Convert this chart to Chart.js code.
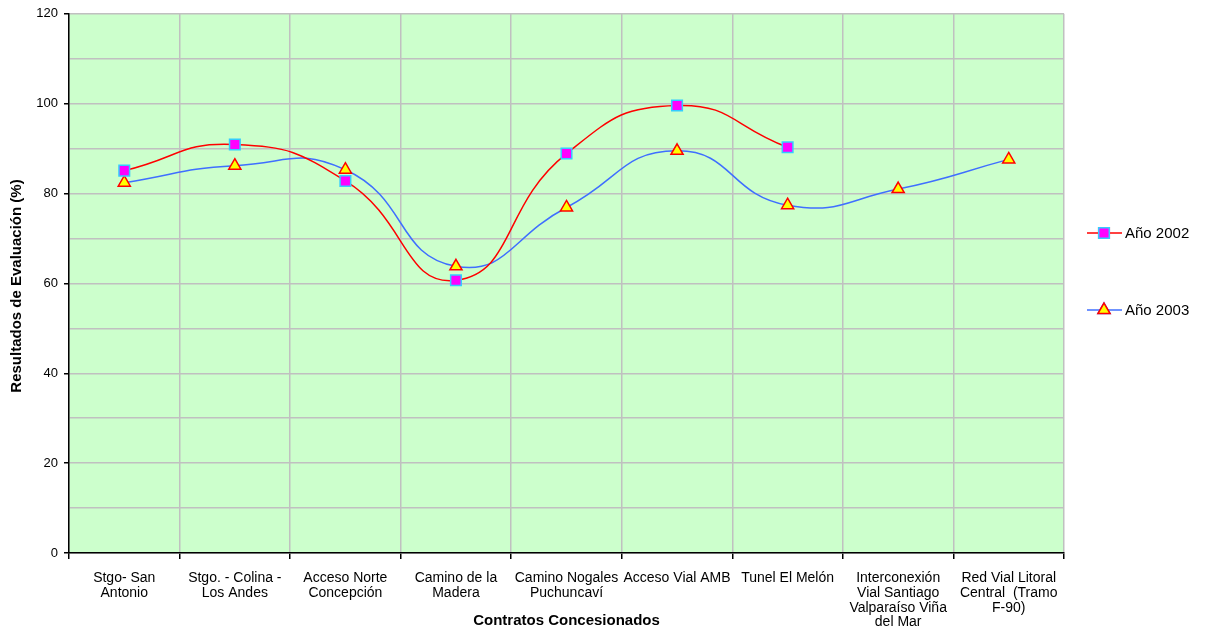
<!DOCTYPE html>
<html>
<head>
<meta charset="utf-8">
<script src="https://cdn.jsdelivr.net/npm/chart.js@4/dist/chart.umd.min.js"></script>
<style>
  html, body { margin: 0; padding: 0; background: #fff; }
  #wrap { width: 1207px; height: 633px; position: relative; }
</style>
</head>
<body>
<div id="wrap"><canvas id="chart"></canvas></div>
<script>
// Contract names (multi-line labels, as in the printed report)
const contratos = [
    ['Stgo- San', 'Antonio'],
    ['Stgo. - Colina -', 'Los Andes'],
    ['Acceso Norte', 'Concepción'],
    ['Camino de la', 'Madera'],
    ['Camino Nogales', 'Puchuncaví'],
    ['Acceso Vial AMB'],
    ['Tunel El Melón'],
    ['Interconexión', 'Vial Santiago', 'Valparaíso Viña', 'del Mar'],
    ['Red Vial Litoral', 'Central  (Tramo', 'F-90)']
];

// Evaluation results (%)
const anio2002 = [85.1, 90.9, 82.8, 60.7, 88.9, 99.6, 90.3, null, null];
const anio2003 = [82.4, 86.2, 85.3, 63.8, 76.9, 89.5, 77.4, 81.0, 87.6];

const yTicks = [0, 20, 40, 60, 80, 100, 120];

const FONT = 'Liberation Sans, Arial, sans-serif';

// green plot background + axis titles + legend on the right
const decor = {
    id: 'decor',
    beforeDraw(chart) {
        const { ctx, chartArea: a } = chart;
        ctx.save();
        ctx.fillStyle = '#CCFFCC';
        ctx.fillRect(a.left, a.top, a.right - a.left, a.bottom - a.top);
        ctx.restore();
    },
    afterDraw(chart) {
        const { ctx, chartArea: a } = chart;
        ctx.save();
        ctx.fillStyle = '#000';
        ctx.font = 'bold 15px ' + FONT;
        ctx.textAlign = 'center';
        ctx.textBaseline = 'middle';
        ctx.fillText('Contratos Concesionados', (a.left + a.right) / 2, 621);
        ctx.translate(17, 286);
        ctx.rotate(-Math.PI / 2);
        ctx.fillText('Resultados de Evaluación (%)', 0, 0);
        ctx.restore();

        const items = [
            { y: 233, ds: chart.data.datasets[0] },
            { y: 310, ds: chart.data.datasets[1] }
        ];
        items.forEach(it => {
            ctx.save();
            ctx.strokeStyle = it.ds.borderColor;
            ctx.lineWidth = 1.5;
            ctx.beginPath();
            ctx.moveTo(1087, it.y);
            ctx.lineTo(1122, it.y);
            ctx.stroke();
            Chart.helpers.drawPoint(ctx, {
                pointStyle: it.ds.pointStyle,
                radius: it.ds.pointRadius,
                borderWidth: it.ds.pointBorderWidth,
                rotation: 0
            }, 1104, it.y);
            ctx.fillStyle = it.ds.pointBackgroundColor;
            ctx.strokeStyle = it.ds.pointBorderColor;
            ctx.lineWidth = it.ds.pointBorderWidth;
            ctx.fill();
            ctx.stroke();
            ctx.fillStyle = '#000';
            ctx.font = '15px ' + FONT;
            ctx.textAlign = 'left';
            ctx.textBaseline = 'middle';
            ctx.fillText(it.ds.label, 1125, it.y + 1);
            ctx.restore();
        });
    }
};

new Chart(document.getElementById('chart').getContext('2d'), {
    type: 'line',
    data: {
        labels: contratos,
        datasets: [
            {
                label: 'Año 2002',
                data: anio2002,
                borderColor: '#FF0000',
                borderWidth: 1.5,
                tension: 0.5,
                pointStyle: 'rect',
                pointRadius: 7.5,
                pointBackgroundColor: '#FF00FF',
                pointBorderColor: '#33CCFF',
                pointBorderWidth: 1.5,
                spanGaps: false
            },
            {
                label: 'Año 2003',
                data: anio2003,
                borderColor: '#3F6FFF',
                borderWidth: 1.5,
                tension: 0.5,
                pointStyle: 'triangle',
                pointRadius: 7,
                pointBackgroundColor: '#FFFF00',
                pointBorderColor: '#FF0000',
                pointBorderWidth: 1.5
            }
        ]
    },
    options: {
        responsive: true,
        maintainAspectRatio: false,
        animation: false,
        layout: { padding: { top: 13, right: 143, left: 0, bottom: 0 } },
        plugins: {
            legend: { display: false },
            tooltip: { enabled: false }
        },
        scales: {
            x: {
                offset: true,
                grid: {
                    offset: true,
                    color: '#C0C0C0',
                    lineWidth: 1.5,
                    tickColor: '#000',
                    tickLength: 6,
                    drawOnChartArea: true
                },
                border: { color: '#000', width: 1.5 },
                ticks: {
                    color: '#000',
                    font: { family: FONT, size: 14, lineHeight: 1.05 },
                    maxRotation: 0,
                    autoSkip: false,
                    padding: 12
                },
                afterFit(scale) { scale.height = 80; }
            },
            y: {
                min: 0,
                max: 120,
                grid: {
                    color: '#C0C0C0',
                    lineWidth: 1.5,
                    tickLength: 5,
                    tickColor: c => (yTicks.includes(c.tick.value) ? '#000' : 'rgba(0,0,0,0)')
                },
                border: { color: '#000', width: 1.5 },
                ticks: {
                    stepSize: 10,
                    color: '#000',
                    font: { family: FONT, size: 13 },
                    padding: 6,
                    callback: v => (yTicks.includes(v) ? String(v) : '')
                },
                afterFit(scale) { scale.width = 69; }
            }
        }
    },
    plugins: [decor]
});
</script>
</body>
</html>
